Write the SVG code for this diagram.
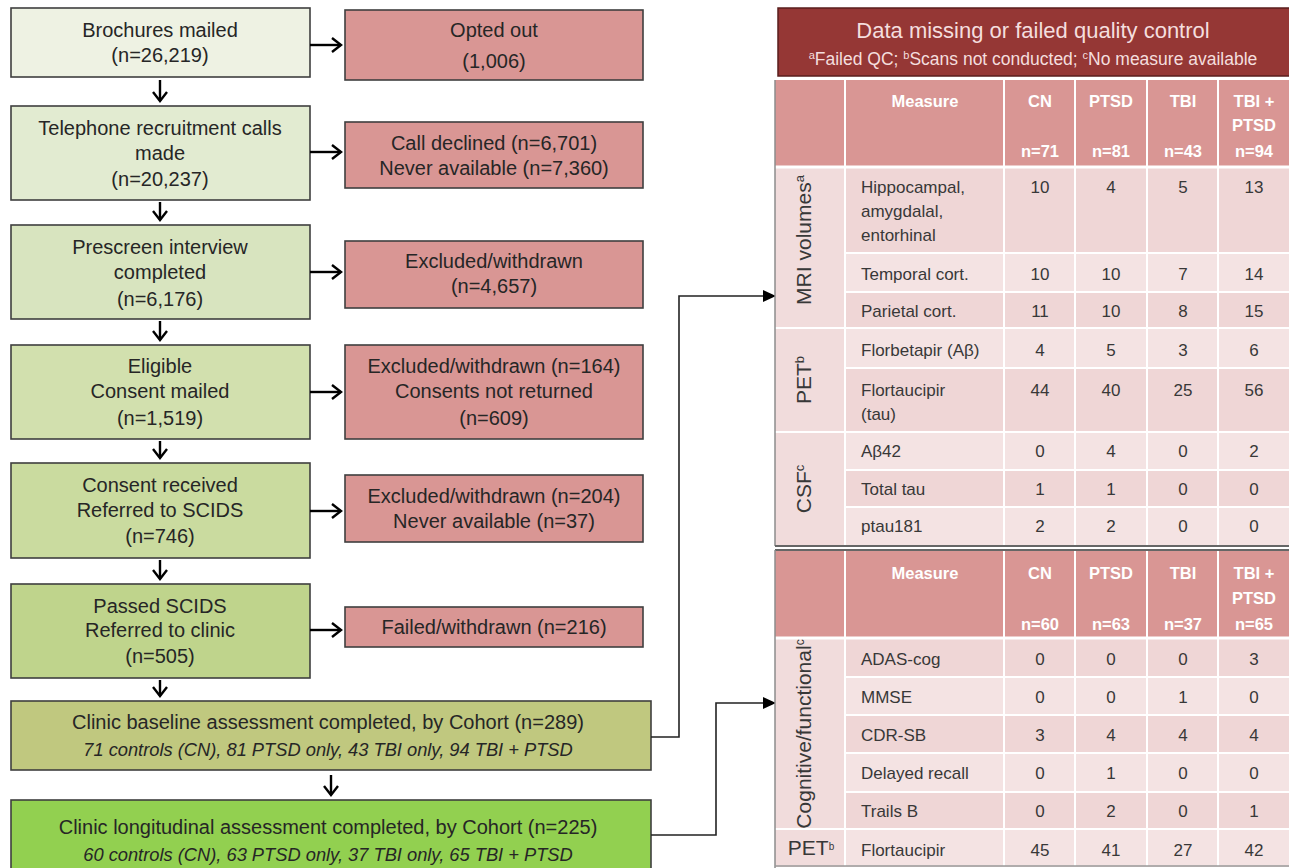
<svg xmlns="http://www.w3.org/2000/svg" width="1289" height="868" viewBox="0 0 1289 868">
<style>
.box{stroke:#3f3f3f;stroke-width:1.6}
.red{fill:#d99694}
.t{font-family:"Liberation Sans",Arial,sans-serif;font-size:20px;fill:#262626;text-anchor:middle}
.ti{font-style:italic;font-size:18.3px}
.tt{font-family:"Liberation Sans",Arial,sans-serif;font-size:17px;fill:#383838;text-anchor:middle}
.tm{text-anchor:start}
.th{font-family:"Liberation Sans",Arial,sans-serif;font-size:16.5px;font-weight:bold;fill:#ffffff;text-anchor:middle}
.rot{font-family:"Liberation Sans",Arial,sans-serif;font-size:21px;fill:#383838;text-anchor:middle}
.arr{stroke:#000;stroke-width:2.4;fill:none;marker-end:url(#chev)}
.con{stroke:#222;stroke-width:1.6;fill:none;marker-end:url(#tri)}
.wl{stroke:#fff;stroke-width:2}
.hdr{fill:#d99694}
.ra{fill:#efd6d6}
.rb{fill:#f4e3e3}
.cat{fill:#f1dcdc}
</style>
<defs>
<marker id="chev" markerUnits="userSpaceOnUse" markerWidth="16" markerHeight="20" refX="10" refY="8" orient="auto" viewBox="0 0 16 20">
<path d="M1,1 L10,8 L1,15" stroke="#000" stroke-width="2.4" fill="none"/>
</marker>
<marker id="tri" markerUnits="userSpaceOnUse" markerWidth="14" markerHeight="12" refX="13" refY="6" orient="auto" viewBox="0 0 14 12">
<path d="M0,0 L13,6 L0,12 Z" fill="#000"/>
</marker>
</defs>

<g id="n1"><rect class="box" x="11" y="8" width="299" height="69" fill="#eef2e3"/><text class="t" x="160" y="37">Brochures mailed</text><text class="t" x="160" y="62">(n=26,219)</text></g>
<g id="n2"><rect class="box" x="11" y="106" width="299" height="94" fill="#e2ebd1"/><text class="t" x="160" y="135">Telephone recruitment calls</text><text class="t" x="160" y="160">made</text><text class="t" x="160" y="186">(n=20,237)</text></g>
<g id="n3"><rect class="box" x="11" y="225" width="299" height="94" fill="#d8e4bf"/><text class="t" x="160" y="254">Prescreen interview</text><text class="t" x="160" y="279">completed</text><text class="t" x="160" y="306">(n=6,176)</text></g>
<g id="n4"><rect class="box" x="11" y="345" width="299" height="94" fill="#d2e0ae"/><text class="t" x="160" y="373">Eligible</text><text class="t" x="160" y="398">Consent mailed</text><text class="t" x="160" y="425">(n=1,519)</text></g>
<g id="n5"><rect class="box" x="11" y="463" width="299" height="95" fill="#cadb9f"/><text class="t" x="160" y="492">Consent received</text><text class="t" x="160" y="517">Referred to SCIDS</text><text class="t" x="160" y="543">(n=746)</text></g>
<g id="n6"><rect class="box" x="11" y="584" width="299" height="94" fill="#bfd48c"/><text class="t" x="160" y="613">Passed SCIDS</text><text class="t" x="160" y="637">Referred to clinic</text><text class="t" x="160" y="663">(n=505)</text></g>
<g id="n7"><rect class="box" x="11" y="701" width="640" height="69" fill="#c0c87f"/><text class="t" x="328" y="729">Clinic baseline assessment completed, by Cohort (n=289)</text><text class="t ti" x="328" y="756">71 controls (CN), 81 PTSD only, 43 TBI only, 94 TBI + PTSD</text></g>
<g id="n8"><rect class="box" x="11" y="800" width="640" height="75" fill="#92d050"/><text class="t" x="328" y="834">Clinic longitudinal assessment completed, by Cohort (n=225)</text><text class="t ti" x="328" y="861">60 controls (CN), 63 PTSD only, 37 TBI only, 65 TBI + PTSD</text></g>

<g id="r1"><rect class="box red" x="345" y="10" width="298" height="70"/><text class="t" x="494" y="37">Opted out</text><text class="t" x="494" y="68">(1,006)</text></g>
<g id="r2"><rect class="box red" x="345" y="122" width="298" height="66"/><text class="t" x="494" y="150">Call declined (n=6,701)</text><text class="t" x="494" y="175">Never available (n=7,360)</text></g>
<g id="r3"><rect class="box red" x="345" y="241" width="298" height="67"/><text class="t" x="494" y="268">Excluded/withdrawn</text><text class="t" x="494" y="293">(n=4,657)</text></g>
<g id="r4"><rect class="box red" x="345" y="345" width="298" height="94"/><text class="t" x="494" y="373">Excluded/withdrawn (n=164)</text><text class="t" x="494" y="398">Consents not returned</text><text class="t" x="494" y="425">(n=609)</text></g>
<g id="r5"><rect class="box red" x="345" y="475" width="298" height="67"/><text class="t" x="494" y="503">Excluded/withdrawn (n=204)</text><text class="t" x="494" y="528">Never available (n=37)</text></g>
<g id="r6"><rect class="box red" x="345" y="607" width="298" height="40"/><text class="t" x="494" y="634">Failed/withdrawn (n=216)</text></g>

<g id="connectors">
<line class="arr" x1="160" y1="80" x2="160" y2="101"/>
<line class="arr" x1="160" y1="202" x2="160" y2="220"/>
<line class="arr" x1="160" y1="321" x2="160" y2="340"/>
<line class="arr" x1="160" y1="441" x2="160" y2="458"/>
<line class="arr" x1="160" y1="560" x2="160" y2="579"/>
<line class="arr" x1="160" y1="680" x2="160" y2="696"/>
<line class="arr" x1="331" y1="775" x2="331" y2="795"/>
<line class="arr" x1="310" y1="45" x2="341" y2="45"/>
<line class="arr" x1="310" y1="152" x2="341" y2="152"/>
<line class="arr" x1="310" y1="272" x2="341" y2="272"/>
<line class="arr" x1="310" y1="392" x2="341" y2="392"/>
<line class="arr" x1="310" y1="511" x2="341" y2="511"/>
<line class="arr" x1="310" y1="630" x2="341" y2="630"/>
<polyline class="con" points="651,737 679,737 679,296 776,296"/>
<polyline class="con" points="651,835 716,835 716,703 776,703"/>
</g>

<g id="title">
<rect x="778" y="8" width="513" height="68" fill="#953735" stroke="#5a1e1d" stroke-width="1.5"/>
<text x="1033" y="38" font-family="Liberation Sans, Arial, sans-serif" font-size="22" fill="#f4dede" text-anchor="middle">Data missing or failed quality control</text>
<text x="1033" y="65" font-family="Liberation Sans, Arial, sans-serif" font-size="17.5" fill="#f4dede" text-anchor="middle"><tspan font-size="11" baseline-shift="super">a</tspan>Failed QC; <tspan font-size="11" baseline-shift="super">b</tspan>Scans not conducted; <tspan font-size="11" baseline-shift="super">c</tspan>No measure available</text>
</g>

<g id="table1">
<rect class="hdr" x="775" y="80" width="514" height="86"/>
<rect class="cat" x="775" y="168" width="70" height="378"/>
<rect class="ra" x="845" y="168" width="444" height="85"/>
<rect class="rb" x="845" y="253" width="444" height="39"/>
<rect class="ra" x="845" y="292" width="444" height="36"/>
<rect class="rb" x="845" y="328" width="444" height="40"/>
<rect class="ra" x="845" y="368" width="444" height="64"/>
<rect class="rb" x="845" y="432" width="444" height="38"/>
<rect class="ra" x="845" y="470" width="444" height="37"/>
<rect class="rb" x="845" y="507" width="444" height="39"/>
<g class="wl">
<line x1="845" y1="80" x2="845" y2="546"/><line x1="1004" y1="80" x2="1004" y2="546"/><line x1="1075" y1="80" x2="1075" y2="546"/><line x1="1147" y1="80" x2="1147" y2="546"/><line x1="1218" y1="80" x2="1218" y2="546"/>
<line x1="775" y1="167" x2="1289" y2="167" stroke-width="3"/>
<line x1="845" y1="253" x2="1289" y2="253"/><line x1="845" y1="292" x2="1289" y2="292"/>
<line x1="775" y1="328" x2="1289" y2="328"/><line x1="845" y1="368" x2="1289" y2="368"/>
<line x1="775" y1="432" x2="1289" y2="432"/><line x1="845" y1="470" x2="1289" y2="470"/><line x1="845" y1="507" x2="1289" y2="507"/>
</g>
<line x1="775" y1="80" x2="775" y2="546" stroke="#8c8c8c" stroke-width="1.5"/>
<line x1="775" y1="546" x2="1289" y2="546" stroke="#666" stroke-width="2"/>
<text class="th" x="925" y="107">Measure</text>
<text class="th" x="1040" y="107">CN</text><text class="th" x="1040" y="157">n=71</text>
<text class="th" x="1111" y="107">PTSD</text><text class="th" x="1111" y="157">n=81</text>
<text class="th" x="1183" y="107">TBI</text><text class="th" x="1183" y="157">n=43</text>
<text class="th" x="1254" y="107">TBI +</text><text class="th" x="1254" y="131">PTSD</text><text class="th" x="1254" y="157">n=94</text>
<text class="rot" transform="translate(811,240) rotate(-90)">MRI volumes<tspan font-size="13" baseline-shift="super">a</tspan></text>
<text class="rot" transform="translate(811,380) rotate(-90)">PET<tspan font-size="13" baseline-shift="super">b</tspan></text>
<text class="rot" transform="translate(811,489) rotate(-90)">CSF<tspan font-size="13" baseline-shift="super">c</tspan></text>
<g class="tt">
<text class="tm" x="861" y="193">Hippocampal,</text><text class="tm" x="861" y="217">amygdalal,</text><text class="tm" x="861" y="241">entorhinal</text>
<text x="1040" y="193">10</text><text x="1111" y="193">4</text><text x="1183" y="193">5</text><text x="1254" y="193">13</text>
<text class="tm" x="861" y="280">Temporal cort.</text><text x="1040" y="280">10</text><text x="1111" y="280">10</text><text x="1183" y="280">7</text><text x="1254" y="280">14</text>
<text class="tm" x="861" y="317">Parietal cort.</text><text x="1040" y="317">11</text><text x="1111" y="317">10</text><text x="1183" y="317">8</text><text x="1254" y="317">15</text>
<text class="tm" x="861" y="356">Florbetapir (Aβ)</text><text x="1040" y="356">4</text><text x="1111" y="356">5</text><text x="1183" y="356">3</text><text x="1254" y="356">6</text>
<text class="tm" x="861" y="396">Flortaucipir</text><text class="tm" x="861" y="420">(tau)</text><text x="1040" y="396">44</text><text x="1111" y="396">40</text><text x="1183" y="396">25</text><text x="1254" y="396">56</text>
<text class="tm" x="861" y="457">Aβ42</text><text x="1040" y="457">0</text><text x="1111" y="457">4</text><text x="1183" y="457">0</text><text x="1254" y="457">2</text>
<text class="tm" x="861" y="495">Total tau</text><text x="1040" y="495">1</text><text x="1111" y="495">1</text><text x="1183" y="495">0</text><text x="1254" y="495">0</text>
<text class="tm" x="861" y="532">ptau181</text><text x="1040" y="532">2</text><text x="1111" y="532">2</text><text x="1183" y="532">0</text><text x="1254" y="532">0</text>
</g>
</g>

<g id="table2">
<rect class="hdr" x="775" y="551" width="514" height="86"/>
<rect class="cat" x="775" y="639" width="70" height="228"/>
<rect class="ra" x="845" y="639" width="444" height="38"/>
<rect class="rb" x="845" y="677" width="444" height="38"/>
<rect class="ra" x="845" y="715" width="444" height="38"/>
<rect class="rb" x="845" y="753" width="444" height="39"/>
<rect class="ra" x="845" y="792" width="444" height="37"/>
<rect class="rb" x="845" y="829" width="444" height="38"/>
<g class="wl">
<line x1="845" y1="551" x2="845" y2="866"/><line x1="1004" y1="551" x2="1004" y2="866"/><line x1="1075" y1="551" x2="1075" y2="866"/><line x1="1147" y1="551" x2="1147" y2="866"/><line x1="1218" y1="551" x2="1218" y2="866"/>
<line x1="775" y1="638" x2="1289" y2="638" stroke-width="3"/>
<line x1="845" y1="677" x2="1289" y2="677"/><line x1="845" y1="715" x2="1289" y2="715"/><line x1="845" y1="753" x2="1289" y2="753"/><line x1="845" y1="792" x2="1289" y2="792"/>
<line x1="775" y1="829" x2="1289" y2="829"/>
</g>
<line x1="775" y1="550" x2="1289" y2="550" stroke="#666" stroke-width="2"/>
<line x1="775" y1="550" x2="775" y2="868" stroke="#8c8c8c" stroke-width="1.5"/>
<line x1="775" y1="866" x2="1289" y2="866" stroke="#9a9a9a" stroke-width="1.5"/>
<text class="th" x="925" y="579">Measure</text>
<text class="th" x="1040" y="579">CN</text><text class="th" x="1040" y="630">n=60</text>
<text class="th" x="1111" y="579">PTSD</text><text class="th" x="1111" y="630">n=63</text>
<text class="th" x="1183" y="579">TBI</text><text class="th" x="1183" y="630">n=37</text>
<text class="th" x="1254" y="579">TBI +</text><text class="th" x="1254" y="604">PTSD</text><text class="th" x="1254" y="630">n=65</text>
<text class="rot" transform="translate(811,734) rotate(-90)" font-size="19.5">Cognitive/functional<tspan font-size="12" baseline-shift="super">c</tspan></text>
<text class="rot" x="811" y="855" font-size="16">PET<tspan font-size="10" baseline-shift="super">b</tspan></text>
<g class="tt">
<text class="tm" x="861" y="665">ADAS-cog</text><text x="1040" y="665">0</text><text x="1111" y="665">0</text><text x="1183" y="665">0</text><text x="1254" y="665">3</text>
<text class="tm" x="861" y="703">MMSE</text><text x="1040" y="703">0</text><text x="1111" y="703">0</text><text x="1183" y="703">1</text><text x="1254" y="703">0</text>
<text class="tm" x="861" y="741">CDR-SB</text><text x="1040" y="741">3</text><text x="1111" y="741">4</text><text x="1183" y="741">4</text><text x="1254" y="741">4</text>
<text class="tm" x="861" y="779">Delayed recall</text><text x="1040" y="779">0</text><text x="1111" y="779">1</text><text x="1183" y="779">0</text><text x="1254" y="779">0</text>
<text class="tm" x="861" y="817">Trails B</text><text x="1040" y="817">0</text><text x="1111" y="817">2</text><text x="1183" y="817">0</text><text x="1254" y="817">1</text>
<text class="tm" x="861" y="856">Flortaucipir</text><text x="1040" y="856">45</text><text x="1111" y="856">41</text><text x="1183" y="856">27</text><text x="1254" y="856">42</text>
</g>
</g>
</svg>
